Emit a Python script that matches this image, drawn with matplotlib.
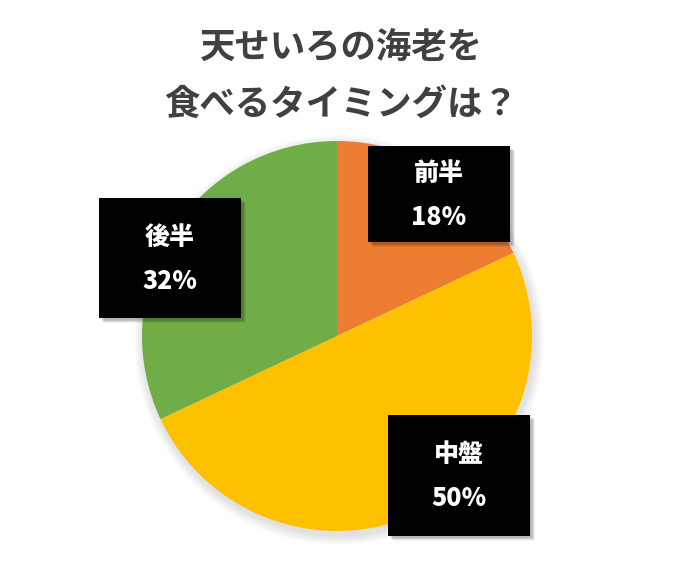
import matplotlib
matplotlib.use("Agg")
import matplotlib.pyplot as plt
from matplotlib.patches import Rectangle, Circle

plt.rcParams['font.family'] = ['Noto Sans CJK JP', 'DejaVu Sans']

# データ
labels = ["前半", "中盤", "後半"]
values = [18, 50, 32]
colors = ["#ED7D31", "#FFC000", "#70AD47"]
title_lines = ["天せいろの海老を", "食べるタイミングは？"]

# ラベル枠の位置 (ピクセル座標, 左下原点)
box_centers = [(439, 386), (459, 105), (170, 322)]
box_w = 142
box_h_list = [96, 121, 120]

fig = plt.figure(figsize=(6.84, 5.80), dpi=100)
ax = fig.add_axes([0, 0, 1, 1])

cx, cy, r = 337, 244, 195

# 円の影
for i in range(10):
    ax.add_patch(Circle((cx + 2, cy - 4), r + 10 - i, color="black",
                        alpha=0.012, lw=0, zorder=1))

ax.pie(values, colors=colors, startangle=90, counterclock=False,
       center=(cx, cy), radius=r, frame=True,
       wedgeprops=dict(linewidth=0, zorder=2))
ax.set_xlim(0, 684)
ax.set_ylim(0, 580)
ax.set_aspect("equal")
ax.axis("off")

for (bx, by), h, lab, v in zip(box_centers, box_h_list, labels, values):
    # 影
    for k in range(6):
        ax.add_patch(Rectangle((bx - box_w / 2 + 2 + k * 0.6, by - h / 2 - 2 - k * 0.6),
                               box_w, h, color="black", alpha=0.05, lw=0, zorder=3))
    ax.add_patch(Rectangle((bx - box_w / 2, by - h / 2), box_w, h,
                           color="black", lw=0, zorder=4))
    ax.text(bx, by + 21, lab, color="white", fontsize=18, fontweight="heavy",
            ha="center", va="center", zorder=5)
    ax.text(bx, by - 23, f"{v}%", color="white", fontsize=18, fontweight="heavy",
            ha="center", va="center", zorder=5)

ax.text(341, 533, title_lines[0], color="#404040", fontsize=25.5, fontweight="bold",
        ha="center", va="center")
ax.text(341, 476, title_lines[1], color="#404040", fontsize=25.5, fontweight="bold",
        ha="center", va="center")

fig.savefig("out.png", dpi=100)
